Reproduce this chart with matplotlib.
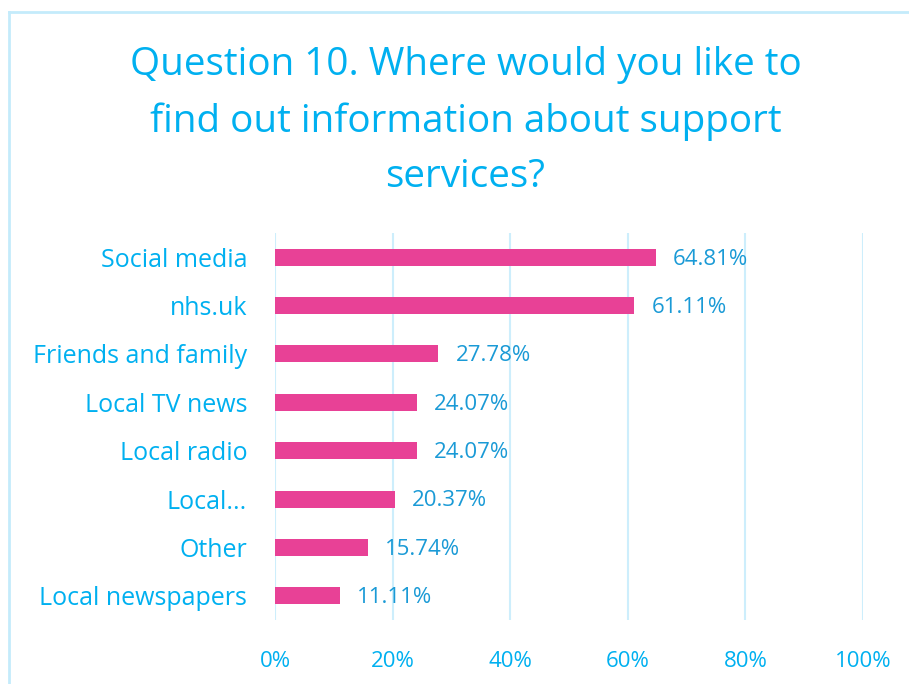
import matplotlib.pyplot as plt
from matplotlib.lines import Line2D

categories = ['Social media', 'nhs.uk', 'Friends and family', 'Local TV news',
              'Local radio', 'Local...', 'Other', 'Local newspapers']
values = [64.81, 61.11, 27.78, 24.07, 24.07, 20.37, 15.74, 11.11]
xticks = [0, 20, 40, 60, 80, 100]

title_blue = '#00B0F0'
value_blue = '#1A9AD6'
bar_pink = '#E84196'
grid_blue = '#CDEEFC'

plt.rcParams['font.family'] = ['Open Sans', 'DejaVu Sans']

fig = plt.figure(figsize=(9.09, 6.84), dpi=100)
ax = fig.add_axes([0.3025, 0.0936, 0.6469, 0.5658])

ypos = list(range(len(categories)))
ax.barh(ypos, values, height=0.35, color=bar_pink, zorder=3)
for y, v in zip(ypos, values):
    ax.text(v + 2.9, y + 0.04, f'{v:.2f}%', va='center', ha='left',
            fontsize=16, color=value_blue, zorder=4)

ax.set_xlim(0, 100)
ax.set_ylim(len(categories) - 0.5, -0.5)
ax.set_yticks(ypos)
ax.set_yticklabels(categories, fontsize=18, color=title_blue)
ax.set_xticks(xticks)
ax.set_xticklabels([f'{t}%' for t in xticks], fontsize=16, color=title_blue)
ax.tick_params(axis='y', length=0, pad=20)
ax.tick_params(axis='x', length=0, pad=22)
ax.grid(axis='x', color=grid_blue, linewidth=1.5, zorder=0)
for s in ax.spines.values():
    s.set_visible(False)

fig.text(0.512, 0.823, 'Question 10. Where would you like to\nfind out information about support\nservices?',
         ha='center', va='center', fontsize=27.8, color=title_blue, linespacing=1.6)

# light frame around the chart area
fig.add_artist(Line2D([0.0099, 0.0099], [0.0, 0.9825], color='#C4EBFB', linewidth=2))
fig.add_artist(Line2D([0.0099, 1.0], [0.9825, 0.9825], color='#C4EBFB', linewidth=2))

fig.savefig('out.png', dpi=100)
